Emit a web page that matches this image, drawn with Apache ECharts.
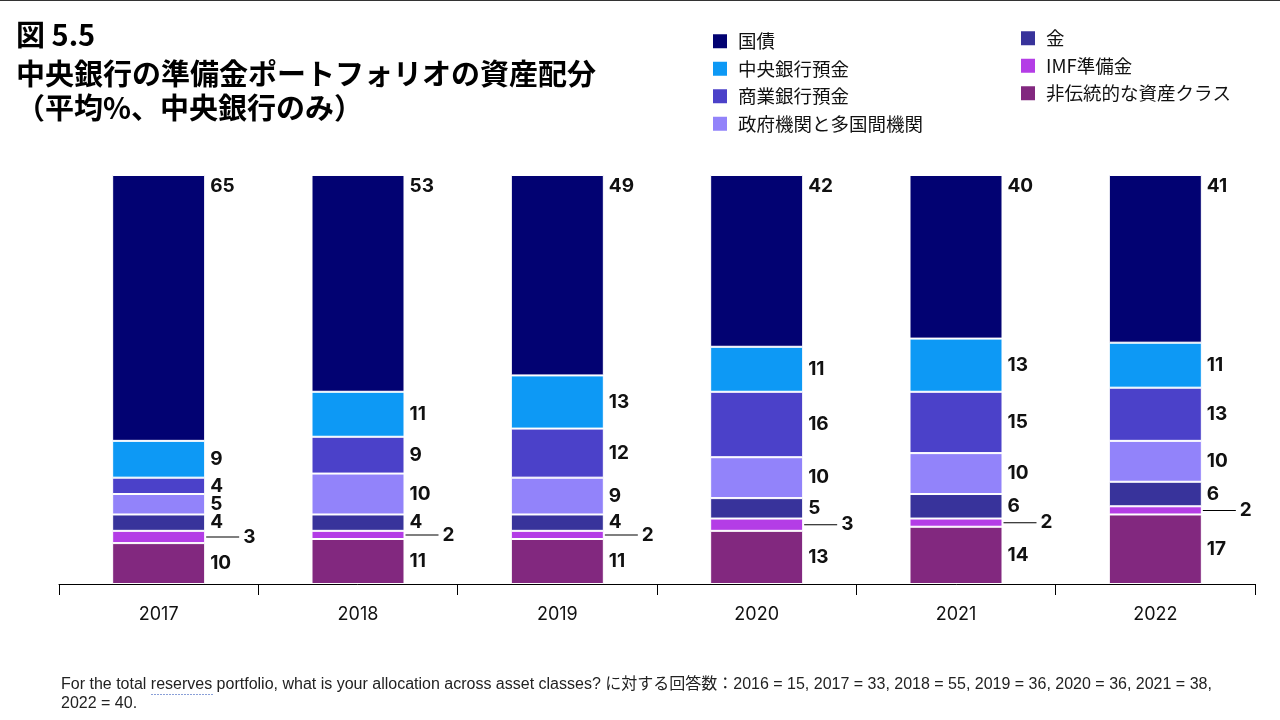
<!DOCTYPE html>
<html>
<head>
<meta charset="utf-8">
<title>図 5.5</title>
<script src="https://cdn.jsdelivr.net/npm/echarts@6/dist/echarts.min.js"></script>
<style>
html, body { margin: 0; padding: 0; background: #fff; }
#main { width: 1280px; height: 720px; }
</style>
</head>
<body>
<div id="main"></div>
<script>
// data, bottom of stack first
var years = ['2017', '2018', '2019', '2020', '2021', '2022'];
var nonTraditional = [10, 11, 11, 13, 14, 17];
var imfReserve = [3, 2, 2, 3, 2, 2];
var gold = [4, 4, 4, 5, 6, 6];
var govAgencies = [5, 10, 9, 10, 10, 10];
var commercialDeposits = [4, 9, 12, 16, 15, 13];
var centralDeposits = [9, 11, 13, 11, 13, 11];
var govBonds = [65, 53, 49, 42, 40, 41];

var names = ['非伝統的な資産クラス', 'IMF準備金', '金', '政府機関と多国間機関', '商業銀行預金', '中央銀行預金', '国債'];
var colors = ['#82287F', '#B43DE6', '#38339B', '#9283FA', '#4B41C9', '#0D99F5', '#020272'];
var values = [nonTraditional, imfReserve, gold, govAgencies, commercialDeposits, centralDeposits, govBonds];

var numFont = { fontFamily: 'Inter', fontWeight: 'bold', fontSize: 19, color: '#111' };

var myChart = echarts.init(document.getElementById('main'));

var series = names.map(function (n, i) {
  var label = Object.assign({ show: true, position: 'right', distance: 5 }, numFont);
  if (n === 'IMF準備金') {
    label = {
      show: true, position: 'right', distance: 1,
      formatter: '{l|}{v|{c}}',
      rich: {
        l: { width: 33, height: 1, backgroundColor: '#000' },
        v: Object.assign({ padding: [0, 0, 0, 4] }, numFont)
      }
    };
  } else if (n === '国債') {
    label = Object.assign({ show: true, position: ['100%', 0], offset: [5, 2] }, numFont);
  }
  return {
    name: n,
    type: 'bar',
    stack: 'total',
    barWidth: 93,
    data: values[i],
    itemStyle: { color: colors[i], borderColor: '#fff', borderWidth: 1 },
    label: label,
    emphasis: { disabled: true }
  };
});

var legendText = { fontFamily: 'Noto Sans CJK JP', fontSize: 18.5, color: '#111', padding: [0, 0, 0, 5] };

var option = {
  animation: false,
  grid: { left: 59, right: 25, top: 175, bottom: 136 },
  legend: [
    {
      orient: 'vertical', left: 706, top: 27, itemGap: 9,
      itemWidth: 16, itemHeight: 16, icon: 'rect',
      data: ['国債', '中央銀行預金', '商業銀行預金', '政府機関と多国間機関'],
      textStyle: legendText
    },
    {
      orient: 'vertical', left: 1014, top: 24, itemGap: 9,
      itemWidth: 16, itemHeight: 16, icon: 'rect',
      data: ['金', 'IMF準備金', '非伝統的な資産クラス'],
      textStyle: legendText
    }
  ],
  xAxis: {
    type: 'category',
    data: years,
    axisLine: { lineStyle: { color: '#000', width: 1 } },
    axisTick: { show: true, interval: 0, length: 11, lineStyle: { color: '#000' } },
    axisLabel: { margin: 22, fontFamily: 'Inter', fontSize: 18, color: '#111' }
  },
  yAxis: { type: 'value', min: 0, max: 100, show: false },
  graphic: [
    { type: 'line', shape: { x1: 0, y1: 0.5, x2: 1280, y2: 0.5 }, style: { stroke: '#333', lineWidth: 1 } },
    { type: 'text', left: 16, top: 20, style: { text: '図 5.5', font: 'bold 29px "Noto Sans CJK JP"', fill: '#000' } },
    { type: 'text', left: 16, top: 59, style: { text: '中央銀行の準備金ポートフォリオの資産配分', font: 'bold 29px "Noto Sans CJK JP"', fill: '#000' } },
    { type: 'text', left: 16, top: 93, style: { text: '（平均%、中央銀行のみ）', font: 'bold 29px "Noto Sans CJK JP"', fill: '#000' } },
    { type: 'text', left: 61, top: 677, style: { text: 'For the total reserves portfolio, what is your allocation across asset classes? に対する回答数：2016 = 15, 2017 = 33, 2018 = 55, 2019 = 36, 2020 = 36, 2021 = 38,', font: '16px "Liberation Sans", "Noto Sans CJK JP"', fill: '#222' } },
    { type: 'line', shape: { x1: 151, y1: 694.5, x2: 213, y2: 694.5 }, style: { stroke: '#8aa0d8', lineWidth: 1, lineDash: [2, 1] } },
    { type: 'text', left: 61, top: 696, style: { text: '2022 = 40.', font: '16px "Liberation Sans"', fill: '#222' } }
  ],
  series: series
};

myChart.setOption(option);
</script>
</body>
</html>
